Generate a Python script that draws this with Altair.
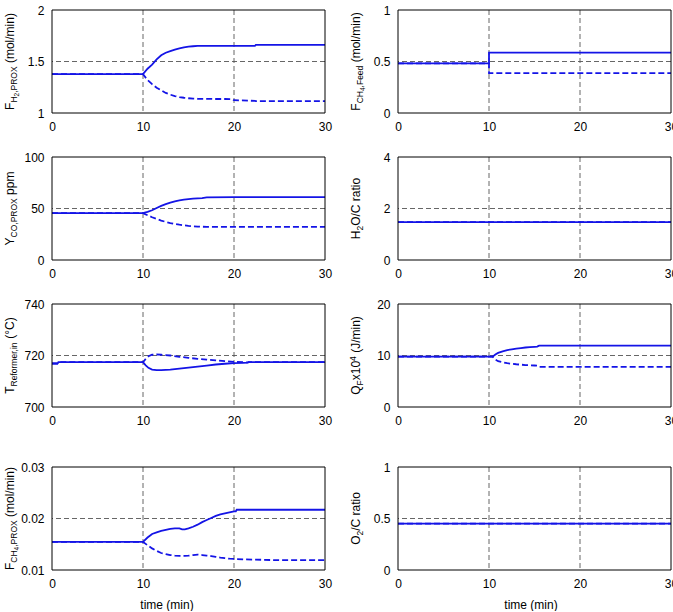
import altair as alt
import pandas as pd

FONT = "Liberation Sans"
BLUE = "#1414e6"
GRID = "#555555"
W, H = 273, 103
X_TICKS = [0, 10, 20, 30]
X_GRID = [10, 20]

# ---- F_H2,PROX (mol/min)
t_h2 = [0, 10, 10.5, 11, 11.5, 12, 12.5, 13, 13.5, 14, 14.5, 15, 15.5, 16, 17, 18, 19, 19.8, 20, 22.3, 22.4, 30]
h2_up = [1.377, 1.377, 1.43, 1.47, 1.52, 1.56, 1.585, 1.60, 1.615, 1.628, 1.638, 1.644, 1.648, 1.651, 1.652, 1.652,
         1.652, 1.652, 1.652, 1.652, 1.661, 1.661]
h2_dn = [1.377, 1.377, 1.32, 1.28, 1.245, 1.22, 1.195, 1.178, 1.165, 1.155, 1.148, 1.143, 1.14, 1.138, 1.137, 1.136,
         1.136, 1.134, 1.124, 1.118, 1.116, 1.116]

# ---- F_CH4,Feed (mol/min)
t_feed = [0, 10, 10, 30]
feed_up = [0.482, 0.482, 0.586, 0.586]
feed_dn = [0.482, 0.482, 0.388, 0.388]

# ---- Y_CO,PROX ppm
t_co = [0, 10, 10.5, 11, 11.5, 12, 12.5, 13, 13.5, 14, 14.5, 15, 15.5, 16, 16.5, 17, 20, 30]
co_up = [45.5, 45.5, 46.8, 48.3, 50.5, 52.5, 54.3, 55.8, 57.0, 57.9, 58.6, 59.1, 59.5, 59.8, 60.1, 60.8, 61.0, 61.0]
co_dn = [45.5, 45.5, 43.5, 41.5, 39.8, 38.3, 37.0, 35.9, 35.0, 34.3, 33.7, 33.2, 32.8, 32.5, 32.3, 32.2, 32.1, 32.1]

# ---- H2O/C ratio
t_sc = [0, 30]
sc_up = [1.47, 1.47]
sc_dn = [1.47, 1.47]

# ---- T_Reformer,in (degC)
t_tr = [0, 0.6, 0.7, 10, 10.3, 10.6, 11, 11.5, 12, 13, 14, 15, 16, 17, 18, 19, 20, 21, 21.5, 21.6, 30]
tr_up = [716.9, 716.9, 717.4, 717.4, 716.2, 715.2, 714.5, 714.3, 714.3, 714.5, 714.9, 715.3, 715.7, 716.1, 716.5,
         716.8, 717.0, 717.1, 717.2, 717.4, 717.4]
tr_dn = [716.9, 716.9, 717.4, 717.4, 718.7, 719.7, 720.3, 720.4, 720.3, 720.0, 719.5, 719.1, 718.7, 718.4, 718.1,
         717.8, 717.5, 717.4, 717.3, 717.4, 717.4]

# ---- Q_F x10^4 (J/min)
t_q = [0, 10.4, 10.7, 11, 11.5, 12, 12.5, 13, 13.5, 14, 14.5, 15, 15.3, 15.5, 30]
q_up = [9.77, 9.77, 10.2, 10.5, 10.8, 11.05, 11.2, 11.35, 11.45, 11.55, 11.62, 11.68, 11.72, 11.9, 11.9]
q_dn = [9.77, 9.77, 9.2, 8.9, 8.7, 8.5, 8.4, 8.3, 8.22, 8.15, 8.1, 8.06, 8.02, 7.8, 7.8]

# ---- F_CH4,PROX (mol/min)
t_ch4 = [0, 10, 10.5, 11, 11.5, 12, 12.5, 13, 13.5, 14, 14.3, 14.6, 15, 15.5, 16, 16.5, 17, 17.5, 18, 18.5, 19,
         19.5, 20, 20.2, 20.3, 25, 30]
ch4_up = [0.01547, 0.01547, 0.0163, 0.0170, 0.0173, 0.0176, 0.0178, 0.0180, 0.0181, 0.0181, 0.0179, 0.0179, 0.0181,
          0.0184, 0.0188, 0.0193, 0.0197, 0.0201, 0.0205, 0.0208, 0.0210, 0.0212, 0.0214, 0.0214, 0.0217, 0.0217,
          0.0217]
ch4_dn = [0.01547, 0.01547, 0.0148, 0.0142, 0.0137, 0.0133, 0.0131, 0.0129, 0.0128, 0.01275, 0.01275, 0.01275,
          0.01278, 0.0129, 0.0130, 0.0129, 0.0128, 0.0127, 0.01255, 0.0124, 0.0123, 0.0122, 0.01215, 0.0121,
          0.0121, 0.0119, 0.0119]

# ---- O2/C ratio
t_oc = [0, 30]
oc_up = [0.45, 0.45]
oc_dn = [0.45, 0.45]

# Arial / Liberation Sans advance widths (per 1000 em) used to lay out rich titles
ADV = {' ': 278, '(': 333, ')': 333, ',': 278, '.': 278, '/': 278, '°': 400}
ADV.update({d: 556 for d in "0123456789"})
ADV.update(dict(zip("ABCDEFGHIJKLMNOPQRSTUVWXYZ",
                    [667, 667, 722, 722, 667, 611, 778, 722, 278, 500, 667, 556, 833, 722, 778, 667, 778, 722,
                     667, 611, 722, 667, 944, 667, 667, 611])))
ADV.update(dict(zip("abcdefghijklmnopqrstuvwxyz",
                    [556, 556, 500, 556, 556, 278, 556, 556, 222, 222, 500, 222, 833, 556, 556, 556, 556, 333,
                     500, 278, 556, 500, 722, 500, 500, 500])))

# level -> (font size, baseline shift towards the axis)
LEVELS = {0: (12, 0.0), 1: (8.5, 3.0), 2: (6.5, 5.0), -1: (8.5, -4.5)}


def text_width(s, size):
    return sum(ADV.get(c, 556) for c in s) * size / 1000.0


def rich_title(segments, center_y, x_base=-38.0):
    """Vertical axis title built from pieces with sub/superscripts."""
    total = sum(text_width(s, LEVELS[lv][0]) for s, lv in segments)
    pos = center_y + total / 2
    layers = []
    for s, lv in segments:
        size, shift = LEVELS[lv]
        lead = len(s) - len(s.lstrip(" "))
        pos -= text_width(s[:lead], size)
        body = s.lstrip(" ")
        layers.append(
            alt.Chart(pd.DataFrame({"s": [body]}))
            .mark_text(angle=270, align="left", baseline="alphabetic", fontSize=size, font=FONT, color="black")
            .encode(text="s:N", x=alt.value(x_base + shift), y=alt.value(pos))
        )
        pos -= text_width(body, size)
    return layers


def panel(t, up, dn, ydom, yticks, ygrid, title, xlabel_x=None, top=0):
    """One time-response panel; `top` leaves empty room above the frame."""
    df = pd.DataFrame({"t": t, "up": up, "dn": dn, "i": list(range(len(t)))})
    xsc = alt.Scale(domain=[0, 30], nice=False, zero=False)
    ysc = alt.Scale(domain=ydom, nice=False, zero=False, range=[top + H, top])
    xax = alt.Axis(values=X_TICKS, format="~f", title=None, labelFlush=False)
    yax = alt.Axis(values=yticks, format="~f", title=None, labelFlush=False)

    vgrid = (alt.Chart(pd.DataFrame({"g": X_GRID}))
             .mark_rule(color=GRID, strokeDash=[5, 3], strokeWidth=0.9)
             .encode(x=alt.X("g:Q", scale=xsc, axis=xax), y=alt.value(top), y2=alt.value(top + H)))
    hgrid = (alt.Chart(pd.DataFrame({"h": [ygrid]}))
             .mark_rule(color=GRID, strokeDash=[5, 3], strokeWidth=0.9)
             .encode(y=alt.Y("h:Q", scale=ysc, axis=yax)))
    base = alt.Chart(df)
    dashed = base.mark_line(color=BLUE, strokeWidth=1.8, strokeDash=[6, 3], clip=True).encode(
        x=alt.X("t:Q", scale=xsc, axis=xax), y=alt.Y("dn:Q", scale=ysc, axis=yax), order="i:Q")
    solid = base.mark_line(color=BLUE, strokeWidth=1.8, clip=True).encode(
        x=alt.X("t:Q", scale=xsc, axis=xax), y=alt.Y("up:Q", scale=ysc, axis=yax), order="i:Q")
    frame = (alt.Chart(pd.DataFrame({"f": [0]}))
             .mark_rect(fillOpacity=0, stroke="black", strokeWidth=1)
             .encode(x=alt.value(0), x2=alt.value(W), y=alt.value(top), y2=alt.value(top + H)))

    layers = [vgrid, hgrid, dashed, solid, frame] + rich_title(title, top + H / 2)
    if xlabel_x is not None:
        layers.append(
            alt.Chart(pd.DataFrame({"s": ["time (min)"]}))
            .mark_text(align="center", baseline="middle", fontSize=12, font=FONT, color="black")
            .encode(text="s:N", x=alt.value(xlabel_x), y=alt.value(top + H + 35))
        )
    return alt.layer(*layers).properties(width=W, height=top + H)


LOW_TOP = 16  # extra gap above the bottom row

p1 = panel(t_h2, h2_up, h2_dn, [1, 2], [1, 1.5, 2], 1.5,
           [("F", 0), ("H", 1), ("2", 2), (",PROX", 1), (" (mol/min)", 0)])
p2 = panel(t_feed, feed_up, feed_dn, [0, 1], [0, 0.5, 1], 0.5,
           [("F", 0), ("CH", 1), ("4", 2), (",Feed", 1), (" (mol/min)", 0)])
p3 = panel(t_co, co_up, co_dn, [0, 100], [0, 50, 100], 50,
           [("Y", 0), ("CO,PROX", 1), (" ppm", 0)])
p4 = panel(t_sc, sc_up, sc_dn, [0, 4], [0, 2, 4], 2,
           [("H", 0), ("2", 1), ("O/C ratio", 0)])
p5 = panel(t_tr, tr_up, tr_dn, [700, 740], [700, 720, 740], 720,
           [("T", 0), ("Reformer,in", 1), (" (°C)", 0)])
p6 = panel(t_q, q_up, q_dn, [0, 20], [0, 10, 20], 10,
           [("Q", 0), ("F", 1), ("x10", 0), ("4", -1), (" (J/min)", 0)])
p7 = panel(t_ch4, ch4_up, ch4_dn, [0.01, 0.03], [0.01, 0.02, 0.03], 0.02,
           [("F", 0), ("CH", 1), ("4", 2), (",PROX", 1), (" (mol/min)", 0)], xlabel_x=115, top=LOW_TOP)
p8 = panel(t_oc, oc_up, oc_dn, [0, 1], [0, 0.5, 1], 0.5,
           [("O", 0), ("2", 1), ("/C ratio", 0)], xlabel_x=133, top=LOW_TOP)

# the right-hand "30" labels run past the right edge and are cut off there
chart = (
    alt.concat(p1, p2, p3, p4, p5, p6, p7, p8, columns=2, spacing={"row": 44, "column": 73}, bounds="flush")
    .configure(padding={"left": 3, "top": 4, "right": -5, "bottom": 0}, background="white")
    .configure_view(stroke=None)
    .configure_axis(domain=False, ticks=False, tickSize=0, grid=False, labelFont=FONT, labelFontSize=12,
                    labelColor="black", labelPadding=8)
)

chart.save("out.html", embed_options={"renderer": "svg", "actions": False})
